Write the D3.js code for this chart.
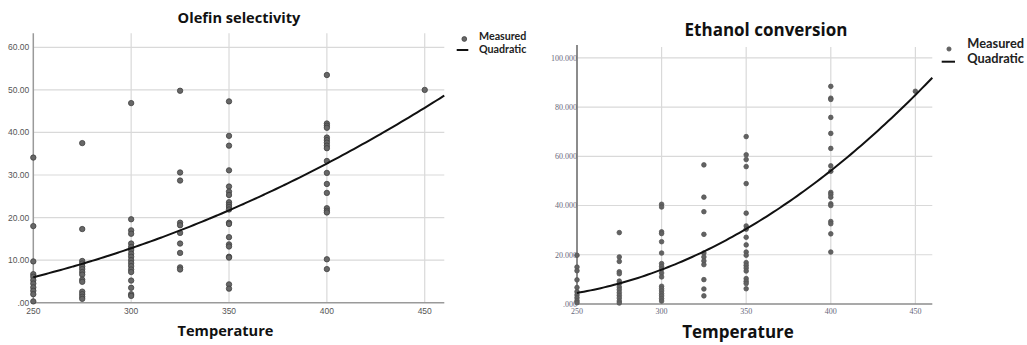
<!DOCTYPE html>
<html>
<head>
<meta charset="utf-8">
<script src="https://cdn.jsdelivr.net/npm/d3@7"></script>
<style>
  html, body { margin: 0; padding: 0; background: #fff; }
  svg { display: block; }
</style>
</head>
<body>
<svg id="chart" width="1027" height="345"></svg>
<script>
// Reaction temperatures tested (°C)
const temperatures = [250, 275, 300, 325, 350, 400, 450];
const xTicks = [250, 300, 350, 400, 450];

// Olefin selectivity (%) measured at each temperature, same order as `temperatures`
const olefinSelectivity = [
  [34.1, 18.0, 9.7, 6.7, 6.1, 5.3, 4.5, 3.6, 2.8, 2.0, 0.3],
  [37.5, 17.3, 9.8, 9.2, 8.5, 7.9, 7.2, 6.6, 5.4, 4.9, 2.6, 2.0, 1.4, 0.9],
  [46.9, 19.6, 17.0, 16.2, 13.9, 13.1, 12.4, 11.5, 10.8, 10.0, 9.3, 8.6, 7.8, 7.2, 5.2, 3.5, 2.0, 1.6],
  [49.8, 30.6, 28.7, 18.8, 18.2, 16.4, 13.9, 11.7, 8.3, 7.8],
  [47.3, 39.2, 36.9, 31.1, 27.3, 26.1, 25.3, 23.6, 23.0, 22.5, 21.9, 18.8, 18.5, 15.4, 13.7, 13.2, 10.8, 10.6, 4.3, 3.3],
  [53.5, 42.1, 41.6, 41.1, 38.8, 38.2, 37.6, 36.9, 36.3, 33.3, 30.5, 27.9, 25.8, 22.2, 21.6, 21.2, 10.2, 7.9],
  [50.0]
];
const olefinTicks = [0, 10, 20, 30, 40, 50, 60];
// Quadratic fit in (T - 250): c0 + c1*t + c2*t^2
const olefinFit = [6.0, 0.115, 0.00042];

// Ethanol conversion (%) measured at each temperature
const ethanolConversion = [
  [19.8, 15.0, 13.5, 9.8, 6.7, 5.0, 3.7, 2.5, 1.3, 0.5],
  [29.0, 19.1, 17.3, 13.1, 12.3, 9.3, 8.3, 6.9, 5.8, 4.6, 3.5, 2.4, 1.2, 0.4],
  [40.5, 39.4, 29.3, 28.6, 25.3, 20.7, 16.4, 15.3, 14.2, 12.6, 11.0, 7.2, 6.2, 5.3, 4.2, 3.3, 2.2, 1.2],
  [56.5, 43.4, 37.5, 28.3, 20.7, 19.1, 17.5, 16.0, 9.9, 6.1, 3.3],
  [68.0, 60.6, 58.7, 55.8, 48.9, 36.9, 31.7, 30.4, 27.1, 24.0, 21.1, 19.8, 16.8, 15.7, 14.6, 13.4, 10.3, 9.2, 8.3, 6.2],
  [88.4, 83.6, 83.1, 75.8, 69.3, 63.2, 56.1, 53.9, 45.3, 44.5, 43.4, 40.7, 40.0, 33.5, 32.6, 28.5, 21.1],
  [86.4]
];
const ethanolTicks = [0, 20, 40, 60, 80, 100];
const ethanolFit = [4.5, 0.118, 0.00142];

const legendLabels = ["Measured", "Quadratic"];

const svg = d3.select("#chart");

function drawPanel(cfg) {
  const g = svg.append("g");
  const x = d3.scaleLinear().domain([250, 460]).range(cfg.xRange);
  const y = d3.scaleLinear().domain([0, cfg.yMax]).range(cfg.yRange);
  const [x0, x1] = cfg.xRange;
  const [yb, yt] = cfg.yRange;

  // horizontal grid
  g.append("g").selectAll("line").data(cfg.yTicks.filter(d => d > 0)).join("line")
    .attr("x1", x0).attr("x2", x1)
    .attr("y1", d => y(d)).attr("y2", d => y(d))
    .attr("stroke", "#d9d9d9").attr("stroke-width", 1.2);
  // vertical grid
  g.append("g").selectAll("line").data(xTicks.filter(d => d > 250)).join("line")
    .attr("x1", d => x(d)).attr("x2", d => x(d))
    .attr("y1", yb).attr("y2", yt + cfg.vGridInset)
    .attr("stroke", "#d9d9d9").attr("stroke-width", 1.2);

  // axes lines
  g.append("line").attr("x1", x0).attr("x2", x1).attr("y1", yb).attr("y2", yb)
    .attr("stroke", cfg.axisColor).attr("stroke-width", 1.5);
  g.append("line").attr("x1", x0).attr("x2", x0).attr("y1", yb).attr("y2", yt)
    .attr("stroke", cfg.axisColor).attr("stroke-width", cfg.yAxisWidth);

  // tick labels
  g.append("g").selectAll("text").data(cfg.yTicks).join("text")
    .attr("x", x0 + cfg.yLabelDx).attr("y", d => y(d))
    .attr("dy", "0.35em").attr("text-anchor", "end")
    .style("font", cfg.tickFont).attr("fill", cfg.tickColor)
    .text(cfg.yFormat);
  g.append("g").selectAll("text").data(xTicks).join("text")
    .attr("x", d => x(d)).attr("y", yb + cfg.xLabelDy)
    .attr("dy", "0.35em").attr("text-anchor", "middle")
    .style("font", cfg.tickFont).attr("fill", cfg.tickColor)
    .text(d => d);

  // measured points
  const pts = [];
  temperatures.forEach((t, i) => cfg.values[i].forEach(v => pts.push([t, v])));
  g.append("g").selectAll("circle").data(pts).join("circle")
    .attr("cx", d => x(d[0])).attr("cy", d => y(d[1]))
    .attr("r", cfg.dotR)
    .attr("fill", cfg.dotFill).attr("stroke", cfg.dotStroke).attr("stroke-width", 0.8);

  // quadratic fit
  const [c0, c1, c2] = cfg.fit;
  const fitFn = T => c0 + c1 * (T - 250) + c2 * (T - 250) * (T - 250);
  const samples = d3.range(250, 460.01, 2).map(T => [T, fitFn(T)]);
  g.append("path").datum(samples)
    .attr("d", d3.line().x(d => x(d[0])).y(d => y(d[1])).curve(d3.curveMonotoneX))
    .attr("fill", "none").attr("stroke", "#111").attr("stroke-width", 2);

  // titles
  g.append("text").attr("x", cfg.titleX).attr("y", cfg.titleY)
    .attr("text-anchor", "middle").style("font", cfg.titleFont).attr("fill", "#111")
    .text(cfg.title);
  g.append("text").attr("x", cfg.xTitleX).attr("y", cfg.xTitleY)
    .attr("text-anchor", "middle").style("font", cfg.titleFont).attr("fill", "#111")
    .text("Temperature");

  // legend
  const L = cfg.legend;
  g.append("circle").attr("cx", L.dotX).attr("cy", L.dotY).attr("r", L.dotR)
    .attr("fill", cfg.dotFill).attr("stroke", cfg.dotStroke).attr("stroke-width", 0.8);
  g.append("line").attr("x1", L.lineX0).attr("x2", L.lineX1).attr("y1", L.lineY).attr("y2", L.lineY)
    .attr("stroke", "#111").attr("stroke-width", 2);
  g.append("text").attr("x", L.textX).attr("y", L.text1Y)
    .style("font", L.font).attr("fill", "#222").text(legendLabels[0]);
  g.append("text").attr("x", L.textX).attr("y", L.text2Y)
    .style("font", L.font).attr("fill", "#222").text(legendLabels[1]);
}

drawPanel({
  values: olefinSelectivity, fit: olefinFit, yTicks: olefinTicks, yMax: 63.3,
  xRange: [33.3, 444.3], yRange: [302.7, 33.3], vGridInset: 0,
  axisColor: "#9a9a9a", yAxisWidth: 1.5,
  yFormat: d => d === 0 ? ".00" : d.toFixed(2),
  tickFont: "8.5px 'Liberation Sans', Arial, sans-serif", tickColor: "#555",
  yLabelDx: -4, xLabelDy: 8,
  dotR: 2.7, dotFill: "#676767", dotStroke: "#404040",
  title: "Olefin selectivity", titleX: 239, titleY: 22.5,
  xTitleX: 225.5, xTitleY: 336,
  titleFont: "700 14.6px 'Open Sans', sans-serif",
  legend: { dotX: 464.3, dotY: 39, dotR: 2.4, lineX0: 456.7, lineX1: 468.3, lineY: 50,
            textX: 479, text1Y: 40, text2Y: 53, font: "700 10.7px Lato, sans-serif" }
});

drawPanel({
  values: ethanolConversion, fit: ethanolFit, yTicks: ethanolTicks, yMax: 105.2,
  xRange: [577, 932.3], yRange: [304, 45], vGridInset: 2,
  axisColor: "#8c8c8c", yAxisWidth: 2,
  yFormat: d => d === 0 ? ".000" : d.toFixed(3),
  tickFont: "8px 'Liberation Serif', 'Times New Roman', serif", tickColor: "#67677a",
  yLabelDx: 0, xLabelDy: 7,
  dotR: 2.3, dotFill: "#626262", dotStroke: "#555",
  title: "Ethanol conversion", titleX: 766, titleY: 36,
  xTitleX: 738, xTitleY: 337.5,
  titleFont: "700 17px 'Open Sans', sans-serif",
  legend: { dotX: 949, dotY: 49, dotR: 2.1, lineX0: 941.7, lineX1: 955, lineY: 61.7,
            textX: 967.3, text1Y: 48.3, text2Y: 63, font: "700 12.8px Lato, sans-serif" }
});
</script>
</body>
</html>
